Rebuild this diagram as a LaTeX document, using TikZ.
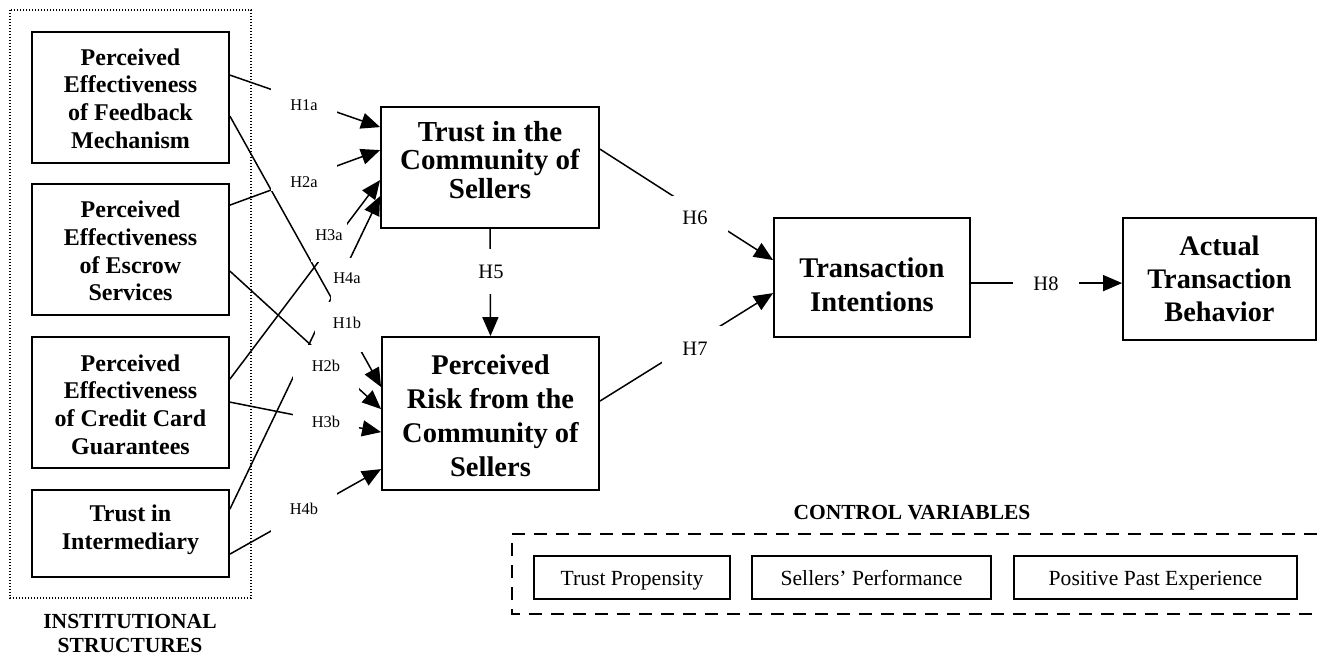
\documentclass[tikz,border=0pt]{standalone}
\usepackage{fontspec}
\setmainfont{Liberation Serif}
\usetikzlibrary{arrows.meta,calc}
\begin{document}
\begin{tikzpicture}[x=1pt,y=-1pt,
  box/.style={draw, line width=1.8pt, inner sep=0pt},
  ctrlbox/.style={draw, line width=1.1pt, inner sep=0pt, minimum height=43pt, text height=17.5pt, text depth=2.5pt, font=\fontsize{21.6}{24}\selectfont},
  leftfont/.style={align=center, inner sep=0pt, font=\fontsize{24}{27.7}\selectfont\bfseries},
  conn/.style={line width=1.5pt},
  arr/.style={conn, -{Triangle[length=19pt,width=16pt]}},
  hs/.style={fill=white, inner sep=0pt, anchor=base, font=\fontsize{16.4}{18}\selectfont},
  hb/.style={fill=white, inner sep=0pt, anchor=base, minimum width=66pt, font=\fontsize{20.5}{22}\selectfont},
  captext/.style={align=center, inner sep=0pt, font=\fontsize{21.5}{24}\selectfont\bfseries}
]
\useasboundingbox (0,0) rectangle (1317,656);

% institutional frame
\draw[line width=1.4pt, dash pattern=on 1.4pt off 1.6pt] (10,10) rectangle (251,598);
\node[captext] (inst) at (130,633) {INSTITUTIONAL\\STRUCTURES};

% left boxes
\node[box, minimum width=197pt, minimum height=131pt] (b1) at (130.5,97.5) {};
\node[leftfont] (b1t) at ($(b1)+(0,1)$) {Perceived\\Effectiveness\\of Feedback\\Mechanism};
\node[box, minimum width=197pt, minimum height=131pt] (b2) at (130.5,249.5) {};
\node[leftfont] (b2t) at ($(b2)+(0,1.5)$) {Perceived\\Effectiveness\\of Escrow\\Services};
\node[box, minimum width=197pt, minimum height=131pt] (b3) at (130.5,402.5) {};
\node[leftfont] (b3t) at ($(b3)+(0,2)$) {Perceived\\Effectiveness\\of Credit Card\\Guarantees};
\node[box, minimum width=197pt, minimum height=87pt] (b4) at (130.5,533.5) {};
\node[leftfont] (b4t) at ($(b4)+(0,-3.5)$) {Trust in\\Intermediary};

% central boxes
\node[box, minimum width=218pt, minimum height=121pt] (tcs) at (490,167.5) {};
\node[align=center, inner sep=0pt, font=\fontsize{29}{28.4}\selectfont\bfseries] (tcst) at ($(tcs)+(0,-7.5)$) {Trust in the\\Community of\\Sellers};
\node[box, minimum width=217pt, minimum height=153pt] (pr) at (490.5,413.5) {};
\node[align=center, inner sep=0pt, font=\fontsize{28.5}{34}\selectfont\bfseries] (prt) at ($(pr)+(0,2.5)$) {Perceived\\Risk from the\\Community of\\Sellers};
\node[box, minimum width=196pt, minimum height=119pt] (ti) at (872,277.5) {};
\node[align=center, inner sep=0pt, font=\fontsize{28.5}{34}\selectfont\bfseries] (tit) at ($(ti)+(0,7.5)$) {Transaction\\Intentions};
\node[box, minimum width=193pt, minimum height=122pt] (atb) at (1219.5,279) {};
\node[align=center, inner sep=0pt, font=\fontsize{28.3}{33}\selectfont\bfseries] (atbt) at (atb) {Actual\\Transaction\\Behavior};

% control variables
\node[captext] (cv) at (912,513) {CONTROL VARIABLES};
\draw[line width=1.4pt, dash pattern=on 13pt off 9pt] (1317,534) -- (512,534) -- (512,614) -- (1317,614);
\node[ctrlbox, minimum width=196pt] (tp) at (632,577.5) {Trust Propensity};
\node[ctrlbox, minimum width=239pt] (sp) at (871.5,577.5) {Sellers’ Performance};
\node[ctrlbox, minimum width=283pt] (ppe) at (1155.5,577.5) {Positive Past Experience};

% connectors
\draw[arr] ($(b1.north east)+(0,44)$) -- ($(tcs.north west)+(0,21)$);
\draw[arr] ($(b2.north east)+(0,22)$) -- ($(tcs.north west)+(0,44)$);
\draw[arr] ($(b3.north east)+(0,43)$) -- ($(tcs.north west)+(0,74)$);
\draw[arr] ($(b4.north east)+(0,20)$) -- ($(tcs.north west)+(0,90)$);
\draw[arr] ($(b1.north east)+(0,85)$) -- ($(pr.north west)+(0,51)$);
\draw[arr] ($(b2.north east)+(0,88)$) -- ($(pr.north west)+(0,73)$);
\draw[arr] ($(b3.north east)+(0,66)$) -- ($(pr.north west)+(0,96)$);
\draw[arr] ($(b4.north east)+(0,65)$) -- ($(pr.north west)+(0,133)$);
\draw[arr] (tcs.south) -- (pr.north);
\draw[arr] ($(tcs.north east)+(0,43)$) -- ($(ti.north west)+(0,43)$);
\draw[arr] ($(pr.north east)+(0,65)$) -- ($(ti.north west)+(0,76)$);
\draw[arr] ($(ti.north east)+(0,66)$) -- ($(atb.north west)+(0,66)$);

% hypothesis labels
\node[hs, minimum width=66pt, text height=22.4pt, text depth=7.6pt] (h1a) at (304,110.4) {H1a};
\node[hs, minimum width=66pt, text height=37.4pt, text depth=3.6pt] (h2a) at (304,187.4) {H2a};
\node[hs, minimum width=36pt, text height=25.4pt, text depth=21.6pt] (h3a) at (329,240.4) {H3a};
\node[hs, minimum width=32pt, text height=25.4pt, text depth=18.6pt] (h4a) at (347,283.4) {H4a};
\node[hs, minimum width=64pt, text height=26.4pt, text depth=23.6pt] (h1b) at (347,328.4) {H1b};
\node[hs, minimum width=66pt, text height=26.4pt, text depth=20.6pt] (h2b) at (326,371.4) {H2b};
\node[hs, minimum width=66pt, text height=22.4pt, text depth=12.6pt] (h3b) at (326,427.4) {H3b};
\node[hs, minimum width=66pt, text height=24.4pt, text depth=20.6pt] (h4b) at (304,514.4) {H4b};
\node[hb, text height=29.8pt, text depth=15.2pt] (h5) at (491,278.8) {H5};
\node[hb, text height=28.8pt, text depth=15.2pt] (h6) at (695,224.8) {H6};
\node[hb, text height=29.8pt, text depth=15.2pt] (h7) at (695,355.8) {H7};
\node[hb, text height=28.8pt, text depth=15.2pt] (h8) at (1046,290.8) {H8};
\end{tikzpicture}
\end{document}
